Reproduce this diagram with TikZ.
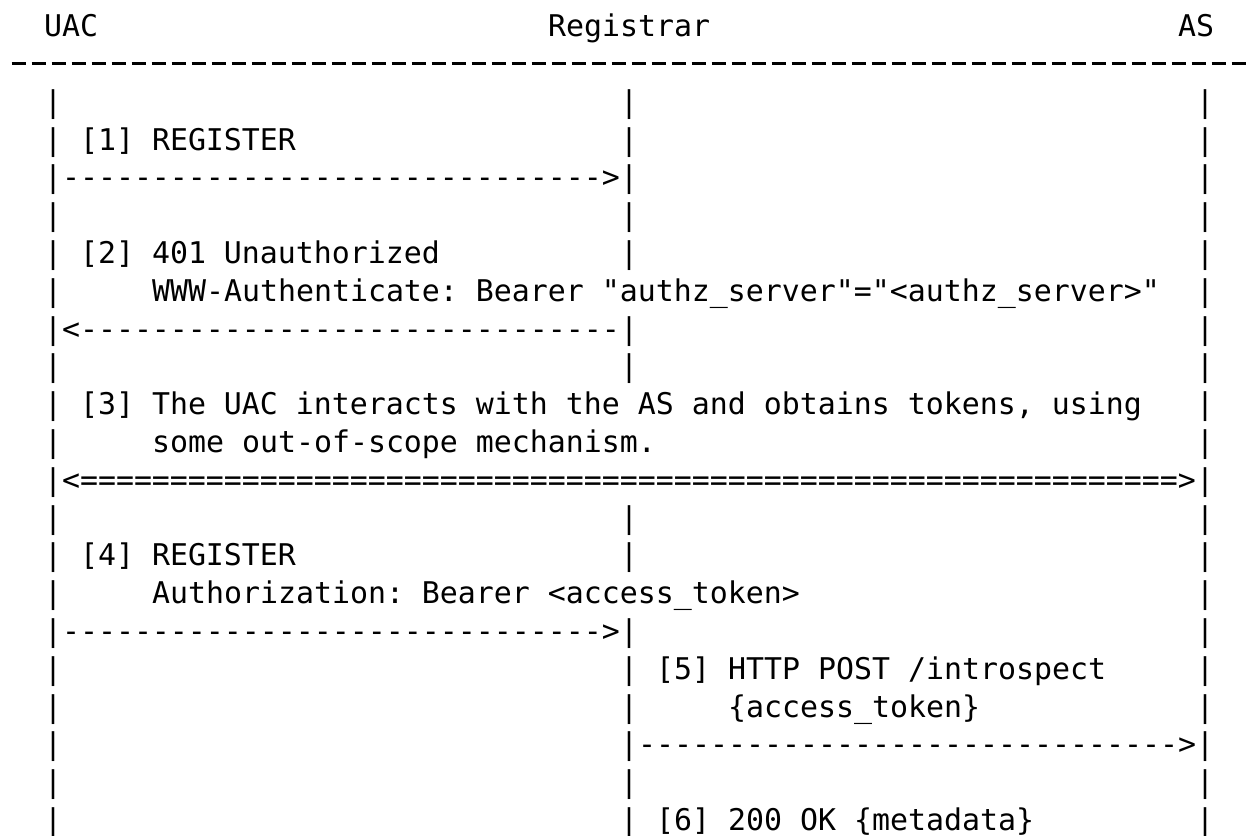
\documentclass[tikz,border=0pt]{standalone}
\usepackage{fontspec}
\setmonofont{DejaVu Sans Mono}
\begin{document}
\begin{tikzpicture}[x=18pt,y=-37.8pt,
  t/.style={anchor=base west, inner sep=0pt, outer sep=0pt,
            font=\ttfamily\fontsize{29.9pt}{36pt}\selectfont},
  rule/.style={line width=2.6pt, dash pattern=on 14.3pt off 5.7pt}]
\fill[white] (0pt,0pt) rectangle (1252pt,-835pt);
\useasboundingbox (0pt,0pt) rectangle (1252pt,-835pt);
\coordinate (ruleL) at (11.7pt,-63.3pt);
\coordinate (ruleR) at (1248pt,-63.3pt);
\draw[rule] (ruleL) -- (ruleR);
\begin{scope}[shift={(8pt,-36.7pt)}]
% headers
\node[t] (uac) at (2,0) {UAC};
\node[t] (reg) at (30,0) {Registrar};
\node[t] (as)  at (65,0) {AS};
% lifelines
\foreach \r in {2,...,21} {\node[t] (la\r) at (2,\r) {|};}
\foreach \r in {2,3,4,5,6,8,9,13,14,16,17,18,19,20,21} {\node[t] (lb\r) at (34,\r) {|};}
\foreach \r in {2,...,21} {\node[t] (lc\r) at (66,\r) {|};}
% messages
\node[t] (m1)  at (4,3)  {[1] REGISTER};
\node[t] (a1)  at (3,4)  {------------------------------>};
\node[t] (m2)  at (4,6)  {[2] 401 Unauthorized};
\node[t] (m2b) at (8,7)  {WWW-Authenticate: Bearer "authz\_server"="<authz\_server>"};
\node[t] (a2)  at (3,8)  {<------------------------------};
\node[t] (m3)  at (4,10) {[3] The UAC interacts with the AS and obtains tokens, using};
\node[t] (m3b) at (8,11) {some out-of-scope mechanism.};
\node[t] (a3)  at (3,12) {<=============================================================>};
\node[t] (m4)  at (4,14) {[4] REGISTER};
\node[t] (m4b) at (8,15) {Authorization: Bearer <access\_token>};
\node[t] (a4)  at (3,16) {------------------------------>};
\node[t] (m5)  at (36,17) {[5] HTTP POST /introspect};
\node[t] (m5b) at (40,18) {\{access\_token\}};
\node[t] (a5)  at (35,19) {------------------------------>};
\node[t] (m6)  at (36,21) {[6] 200 OK \{metadata\}};
\end{scope}
\end{tikzpicture}
\end{document}
